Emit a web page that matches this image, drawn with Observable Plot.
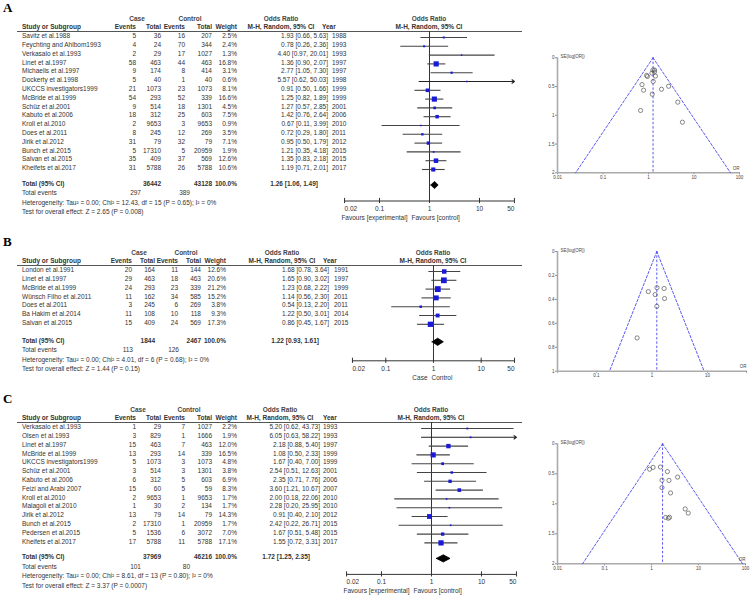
<!DOCTYPE html>
<html><head><meta charset="utf-8">
<script src="https://cdn.jsdelivr.net/npm/d3@7"></script>
<script src="https://cdn.jsdelivr.net/npm/@observablehq/plot@0.6"></script>
<style>
body{margin:0;background:#fff;}
#fig{position:relative;width:750px;height:604px;overflow:hidden;background:#fff;font-family:"Liberation Sans",Arial,sans-serif;color:#333;}
.t{position:absolute;white-space:nowrap;line-height:1;}
.hl{position:absolute;height:0;border-top:1px solid #555;}
svg{overflow:visible;}
</style></head><body><div id="fig"></div>
<script>
// ---------------- DATA ----------------
// Panel A
const A_study = ["Savitz et al.1988","Feychting and Ahlbom1993","Verkasalo et al.1993","Linet et al.1997","Michaelis et al.1997","Dockerty et al.1998","UKCCS investigators1999","McBride et al.1999","Schüz et al.2001","Kabuto et al.2006","Kroll et al.2010","Does et al.2011","Jirik et al.2012","Bunch et al.2015","Salvan et al.2015","Kheifets et al.2017"];
const A_caseEvents = [5,4,2,58,9,5,21,54,9,18,2,8,31,5,35,31];
const A_caseTotal = [36,24,29,463,174,40,1073,293,514,312,9653,245,79,17310,409,5788];
const A_ctrlEvents = [16,70,17,44,8,1,23,52,18,25,3,12,32,5,37,26];
const A_ctrlTotal = [207,344,1027,463,414,40,1073,339,1301,603,9653,269,79,20959,569,5788];
const A_weight = [2.5,2.4,1.3,16.8,3.1,0.6,8.1,16.6,4.5,7.5,0.9,3.5,7.1,1.9,12.6,10.6];
const A_or = [1.93,0.78,4.40,1.36,2.77,5.57,0.91,1.25,1.27,1.42,0.67,0.72,0.95,1.21,1.35,1.19];
const A_lo = [0.66,0.26,0.97,0.90,1.05,0.62,0.50,0.82,0.57,0.76,0.11,0.29,0.50,0.35,0.83,0.71];
const A_hi = [5.63,2.36,20.01,2.07,7.30,50.03,1.66,1.89,2.85,2.64,3.99,1.80,1.79,4.18,2.18,2.01];
const A_year = [1988,1993,1993,1997,1997,1998,1999,1999,2001,2006,2010,2011,2012,2015,2015,2017];
const A_se = [0.547,0.563,0.772,0.213,0.495,1.120,0.306,0.213,0.411,0.318,0.916,0.466,0.325,0.633,0.246,0.266];
const A_totalN = [36442, 43128];
const A_totalEvents = [297, 389];
const A_pooled = [1.26, 1.06, 1.49];
const A_het = "Heterogeneity: Tau² = 0.00; Chi² = 12.43, df = 15 (P = 0.65); I² = 0%";
const A_test = "Test for overall effect: Z = 2.65 (P = 0.008)";
const A_axisLabels = ["Favours [experimental]", "Favours [control]"];

// Panel B
const B_study = ["London et al.1991","Linet et al.1997","McBride et al.1999","Wünsch Filho et al.2011","Does et al.2011","Ba Hakim et al.2014","Salvan et al.2015"];
const B_caseEvents = [20,29,24,11,3,11,15];
const B_caseTotal = [164,463,293,162,245,108,409];
const B_ctrlEvents = [11,18,23,34,6,10,24];
const B_ctrlTotal = [144,463,339,585,269,118,569];
const B_weight = [12.6,20.6,21.2,15.2,3.8,9.3,17.3];
const B_or = [1.68,1.65,1.23,1.14,0.54,1.22,0.86];
const B_lo = [0.78,0.90,0.68,0.56,0.13,0.50,0.45];
const B_hi = [3.64,3.02,2.22,2.30,2.20,3.01,1.67];
const B_year = [1991,1997,1999,2011,2011,2014,2015];
const B_se = [0.393,0.309,0.302,0.360,0.722,0.458,0.335];
const B_totalN = [1844, 2467];
const B_totalEvents = [113, 126];
const B_pooled = [1.22, 0.93, 1.61];
const B_het = "Heterogeneity: Tau² = 0.00; Chi² = 4.01, df = 6 (P = 0.68); I² = 0%";
const B_test = "Test for overall effect: Z = 1.44 (P = 0.15)";
const B_axisLabels = ["Case", "Control"];

// Panel C
const C_study = ["Verkasalo et al.1993","Olsen et al.1993","Linet et al.1997","McBride et al.1999","UKCCS investigators1999","Schüz et al.2001","Kabuto et al.2006","Feizi and Arabi 2007","Kroll et al.2010","Malagoli et al.2010","Jirik et al.2012","Bunch et al.2015","Pedersen et al.2015","Kheifets et al.2017"];
const C_caseEvents = [1,3,15,13,5,3,6,15,2,1,13,2,5,17];
const C_caseTotal = [29,829,463,293,1073,514,312,60,9653,30,79,17310,1536,5788];
const C_ctrlEvents = [7,1,7,14,3,3,5,5,1,2,14,1,6,11];
const C_ctrlTotal = [1027,1666,463,339,1073,1301,603,59,9653,134,79,20959,3072,5788];
const C_weight = [2.2,1.9,12.0,16.5,4.8,3.8,6.9,8.3,1.7,1.7,14.3,1.7,7.0,17.1];
const C_or = [5.20,6.05,2.18,1.08,1.67,2.54,2.35,3.60,2.00,2.28,0.91,2.42,1.67,1.55];
const C_lo = [0.62,0.63,0.88,0.50,0.40,0.51,0.71,1.21,0.18,0.20,0.40,0.22,0.51,0.72];
const C_hi = [43.73,58.22,5.40,2.33,7.00,12.63,7.76,10.67,22.06,25.95,2.10,26.71,5.48,3.31];
const C_year = [1993,1993,1997,1999,1999,2001,2006,2007,2010,2010,2012,2015,2015,2017];
const C_se = [1.086,1.155,0.463,0.393,0.730,0.819,0.610,0.555,1.227,1.241,0.423,1.225,0.606,0.387];
const C_totalN = [37969, 46216];
const C_totalEvents = [101, 80];
const C_pooled = [1.72, 1.25, 2.35];
const C_het = "Heterogeneity: Tau² = 0.00; Chi² = 8.61, df = 13 (P = 0.80); I² = 0%";
const C_test = "Test for overall effect: Z = 3.37 (P = 0.0007)";
const C_axisLabels = ["Favours [experimental]", "Favours [control]"];

// tick labels
const forestTicks = [0.02, 0.1, 1, 10, 50];
const funnelTicksX_A = [0.01, 0.1, 1, 10, 100];
const funnelTicksY_A = [0, 0.5, 1, 1.5, 2];
const funnelTicksX_B = [0.02, 0.1, 1, 10, 50];
const funnelTicksY_B = [0, 0.2, 0.4, 0.6, 0.8, 1];
const funnelTicksX_C = [0.01, 0.1, 1, 10, 100];
const funnelTicksY_C = [0, 0.5, 1, 1.5, 2];

// ---------------- LAYOUT ----------------
const S = 8.8; // row pitch (px)
const FS = 6.5; // table font size
const FONT = "Liberation Sans, Arial, sans-serif";
const fig = document.getElementById("fig");

function txt(s, x, y, o = {}) {
  const size = o.size || FS;
  const d = document.createElement("div");
  d.className = "t";
  d.textContent = s;
  d.style.left = x + "px";
  d.style.top = (y - size / 2 - 0.5) + "px";
  d.style.fontSize = size + "px";
  if (o.bold) d.style.fontWeight = "bold";
  if (o.color) d.style.color = o.color;
  if (o.family) d.style.fontFamily = o.family;
  if (o.align === "right") d.style.transform = "translateX(-100%)";
  else if (o.align === "center") d.style.transform = "translateX(-50%)";
  fig.appendChild(d);
}
function hline(x, y, w) {
  const d = document.createElement("div");
  d.className = "hl";
  d.style.left = x + "px"; d.style.top = y + "px"; d.style.width = w + "px";
  fig.appendChild(d);
}
function place(el, left, top) {
  el.style.position = "absolute";
  el.style.left = left + "px";
  el.style.top = top + "px";
  fig.appendChild(el);
}
const f2 = v => v.toFixed(2);
const ciText = (o, l, h) => `${f2(o)} [${f2(l)}, ${f2(h)}]`;

const panels = [
  {label: "A", study: A_study, ce: A_caseEvents, ct: A_caseTotal, xe: A_ctrlEvents, xt: A_ctrlTotal,
   weight: A_weight, or: A_or, lo: A_lo, hi: A_hi, year: A_year, se: A_se,
   totalN: A_totalN, totalEvents: A_totalEvents, pooled: A_pooled, het: A_het, test: A_test, axisLabels: A_axisLabels,
   y0: 37, cols: {ce: 136, ct: 161, xe: 185, xt: 212, w: 237, orR: 328, yr: 332, orHdr: 281, yrHdr: 322, caseC: 137, ctrlC: 190, evShift: 5},
   totGap: 15.5, axGap: 16, px1: 429, dec: 50, favDx: [-22, -18],
   fun: {xticks: funnelTicksX_A, yticks: funnelTicksY_A, left: 530, top: 40, w: 220, h: 150, ml: 27, mr: 11, mt: 17.3, mb: 17.7}},
  {label: "B", study: B_study, ce: B_caseEvents, ct: B_caseTotal, xe: B_ctrlEvents, xt: B_ctrlTotal,
   weight: B_weight, or: B_or, lo: B_lo, hi: B_hi, year: B_year, se: B_se,
   totalN: B_totalN, totalEvents: B_totalEvents, pooled: B_pooled, het: B_het, test: B_test, axisLabels: B_axisLabels,
   y0: 271, cols: {ce: 132, ct: 155, xe: 178, xt: 201, w: 226, orR: 329, yr: 334, orHdr: 282, yrHdr: 323, caseC: 139, ctrlC: 186, evShift: 1},
   totGap: 17.5, axGap: 19, px1: 433, dec: 47.7, favDx: [-6, -2],
   fun: {xticks: funnelTicksX_B, yticks: funnelTicksY_B, left: 530, top: 234, w: 220, h: 152, ml: 27, mr: 4, mt: 17, mb: 15.3}},
  {label: "C", study: C_study, ce: C_caseEvents, ct: C_caseTotal, xe: C_ctrlEvents, xt: C_ctrlTotal,
   weight: C_weight, or: C_or, lo: C_lo, hi: C_hi, year: C_year, se: C_se,
   totalN: C_totalN, totalEvents: C_totalEvents, pooled: C_pooled, het: C_het, test: C_test, axisLabels: C_axisLabels,
   y0: 428, cols: {ce: 136, ct: 161, xe: 185, xt: 212, w: 237, orR: 320, yr: 323, orHdr: 280, yrHdr: 323, caseC: 138, ctrlC: 189, evShift: 5},
   totGap: 15.5, axGap: 16, px1: 431, dec: 50, favDx: [-22, -18],
   fun: {xticks: funnelTicksX_C, yticks: funnelTicksY_C, left: 530, top: 426, w: 220, h: 155, ml: 27, mr: 5, mt: 17.3, mb: 17.7}}
];

function drawTable(P) {
  const c = P.cols, n = P.study.length;
  txt(P.label, 3, P.y0 - 29, {size: 13, bold: true, family: "Liberation Serif, Times New Roman, serif", color: "#000"});
  const h1 = P.y0 - 17, h2 = P.y0 - 9;
  txt("Case", c.caseC, h1, {align: "center", bold: true, color: "#444"});
  txt("Control", c.ctrlC, h1, {align: "center", bold: true, color: "#444"});
  txt("Odds Ratio", c.orHdr, h1, {align: "center", bold: true, color: "#444"});
  txt("Odds Ratio", P.px1, h1, {align: "center", bold: true, color: "#444"});
  txt("Study or Subgroup", 22, h2, {bold: true});
  txt("Events", c.ce, h2, {align: "right", bold: true});
  txt("Total", c.ct, h2, {align: "right", bold: true});
  txt("Events", c.xe, h2, {align: "right", bold: true});
  txt("Total", c.xt, h2, {align: "right", bold: true});
  txt("Weight", c.w, h2, {align: "right", bold: true});
  txt("M-H, Random, 95% CI", c.orHdr, h2, {align: "center", bold: true});
  txt("Year", c.yrHdr, h2, {bold: true});
  txt("M-H, Random, 95% CI", P.px1, h2, {align: "center", bold: true});
  hline(17, P.y0 - 6, 505);
  for (let i = 0; i < n; i++) {
    const y = P.y0 + i * S;
    txt(P.study[i], 22, y);
    txt(String(P.ce[i]), c.ce, y, {align: "right"});
    txt(String(P.ct[i]), c.ct, y, {align: "right"});
    txt(String(P.xe[i]), c.xe, y, {align: "right"});
    txt(String(P.xt[i]), c.xt, y, {align: "right"});
    txt(P.weight[i].toFixed(1) + "%", c.w, y, {align: "right"});
    txt(ciText(P.or[i], P.lo[i], P.hi[i]), c.orR, y, {align: "right"});
    txt(String(P.year[i]), c.yr, y);
  }
  const yT = P.y0 + (n - 1) * S + P.totGap;
  txt("Total (95% CI)", 22, yT, {bold: true});
  txt(String(P.totalN[0]), c.ct, yT, {align: "right", bold: true});
  txt(String(P.totalN[1]), c.xt, yT, {align: "right", bold: true});
  txt("100.0%", c.w, yT, {align: "right", bold: true});
  txt(ciText(P.pooled[0], P.pooled[1], P.pooled[2]), c.orR - 10, yT, {align: "right", bold: true});
  txt("Total events", 22, yT + 9.5);
  txt(String(P.totalEvents[0]), c.ce + c.evShift, yT + 9.5, {align: "right"});
  txt(String(P.totalEvents[1]), c.xe + c.evShift, yT + 9.5, {align: "right"});
  txt(P.het, 22, yT + 19);
  txt(P.test, 22, yT + 28.5);
}

function drawForest(P) {
  const n = P.study.length;
  const rows = P.study.map((s, i) => ({i, or: P.or[i], lo: P.lo[i], hi: P.hi[i], w: P.weight[i]}));
  const lastPx = P.y0 + (n - 1) * S;
  const totPx = lastPx + P.totGap, axPx = totPx + P.axGap;
  const topPx = P.y0 - 10, botPx = axPx + 22;
  const toRow = px => (px - P.y0) / S;
  const yTot = toRow(totPx), yAx = toRow(axPx);
  const xAt = v => P.px1 + P.dec * Math.log10(v);
  const left = 330;
  const xmin = forestTicks[0], xmax = forestTicks[forestTicks.length - 1];
  const ml = xAt(xmin) - left, mr = 530 - xAt(xmax);
  const full = rows.filter(d => d.hi <= xmax), trunc = rows.filter(d => d.hi > xmax);
  const dh = 3.6 / S;
  const diamond = [
    {x: P.pooled[1], y: yTot}, {x: P.pooled[0], y: yTot - dh},
    {x: P.pooled[2], y: yTot}, {x: P.pooled[0], y: yTot + dh}, {x: P.pooled[1], y: yTot}
  ];
  const tk = 2.6 / S;
  const svg = Plot.plot({
    width: 200, height: botPx - topPx,
    marginLeft: ml, marginRight: mr, marginTop: 0, marginBottom: 0,
    style: {fontSize: FS + "px", fontFamily: FONT, color: "#333", background: "transparent"},
    x: {type: "log", domain: [xmin, xmax], axis: null},
    y: {domain: [toRow(topPx), toRow(botPx)], reverse: true, axis: null},
    r: {type: "sqrt", domain: [0, 20], range: [0, 3.2]},
    marks: [
      Plot.ruleX([1], {x: d => d, y1: () => toRow(P.y0 - 6), y2: () => yAx, stroke: "#333", strokeWidth: 1}),
      Plot.link(full, {x1: "lo", x2: "hi", y1: "i", y2: "i", stroke: "#444", strokeWidth: 1.1}),
      Plot.arrow(trunc, {x1: "lo", x2: () => xmax, y1: "i", y2: "i", stroke: "#222", strokeWidth: 1.1, headLength: 4, headAngle: 70}),
      Plot.dot(rows, {x: "or", y: "i", r: d => Math.max(d.w, 1.4), symbol: "square", fill: "#1a1ad6", stroke: null}),
      Plot.line(diamond, {x: "x", y: "y", fill: "#000", stroke: "#000", strokeWidth: 0.8}),
      Plot.ruleY([yAx], {y: d => d, x1: () => xmin, x2: () => xmax, stroke: "#333", strokeWidth: 1}),
      Plot.ruleX(forestTicks, {x: d => d, y1: () => yAx - tk, y2: () => yAx + tk, stroke: "#333", strokeWidth: 1}),
      Plot.text(forestTicks.slice(0, 1), {x: d => d, y: () => yAx, dy: 8, text: d => String(d), textAnchor: "start"}),
      Plot.text(forestTicks.slice(1, -1), {x: d => d, y: () => yAx, dy: 8, text: d => String(d), textAnchor: "middle"}),
      Plot.text(forestTicks.slice(-1), {x: d => d, y: () => yAx, dy: 8, text: d => String(d), textAnchor: "end"}),
      Plot.text([P.axisLabels[0]], {x: () => 1, y: () => yAx, dy: 17, dx: P.favDx[0], text: d => d, textAnchor: "end"}),
      Plot.text([P.axisLabels[1]], {x: () => 1, y: () => yAx, dy: 17, dx: P.favDx[1], text: d => d, textAnchor: "start"})
    ]
  });
  place(svg, left, topPx);
}

function drawFunnel(P) {
  const F = P.fun;
  const pts = P.or.map((o, i) => ({or: o, se: P.se[i]}));
  const xdom = [F.xticks[0], F.xticks[F.xticks.length - 1]];
  const ymax = F.yticks[F.yticks.length - 1];
  const pooled = P.pooled[0];
  const leftLine = [{x: pooled, y: 0}, {x: pooled * Math.exp(-1.96 * ymax), y: ymax}];
  const rightLine = [{x: pooled, y: 0}, {x: pooled * Math.exp(1.96 * ymax), y: ymax}];
  const blue = "#4848f0";
  const svg = Plot.plot({
    width: F.w, height: F.h, marginLeft: F.ml, marginRight: F.mr, marginTop: F.mt, marginBottom: F.mb,
    style: {fontSize: "4.5px", fontFamily: FONT, color: "#444", background: "transparent"},
    x: {type: "log", domain: xdom},
    y: {domain: [0, ymax], reverse: true},
    marks: [
      Plot.axisX(F.xticks, {tickSize: 2, tickPadding: 1, tickFormat: d => String(d), label: null, stroke: "#888"}),
      Plot.axisY(F.yticks, {tickSize: 2, tickPadding: 1, tickFormat: d => String(d), label: null, stroke: "#888"}),
      Plot.ruleY([ymax], {y: d => d, stroke: "#aaa", strokeWidth: 1.6}),
      Plot.ruleX([xdom[0]], {x: d => d, stroke: "#aaa", strokeWidth: 1.6}),
      Plot.line(leftLine, {x: "x", y: "y", stroke: blue, strokeWidth: 0.9, strokeDasharray: "2.5,1.8"}),
      Plot.line(rightLine, {x: "x", y: "y", stroke: blue, strokeWidth: 0.9, strokeDasharray: "2.5,1.8"}),
      Plot.ruleX([pooled], {x: d => d, stroke: blue, strokeWidth: 0.9, strokeDasharray: "2.5,1.8"}),
      Plot.dot(pts, {x: "or", y: "se", r: 2.1, stroke: "#555", strokeWidth: 0.7, fill: "none"}),
      Plot.text(["SE(log[OR])"], {frameAnchor: "top-left", textAnchor: "start", dx: 3, dy: -3, text: d => d}),
      Plot.text(["OR"], {frameAnchor: "bottom-right", textAnchor: "end", dy: -3, text: d => d})
    ]
  });
  place(svg, F.left, F.top);
}

for (const P of panels) {
  drawTable(P);
  drawForest(P);
  drawFunnel(P);
}
</script>
</body></html>
